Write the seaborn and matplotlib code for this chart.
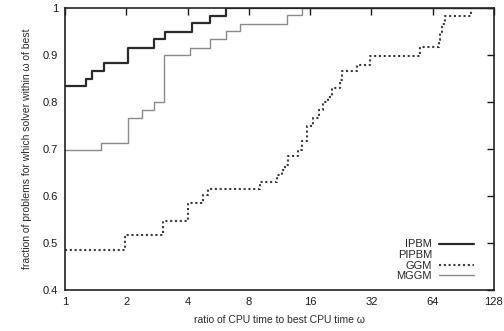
import numpy as np
import pandas as pd
import seaborn as sns
import matplotlib.pyplot as plt
from matplotlib.ticker import FixedLocator, NullLocator

# performance profile data (step points: tau, fraction)
ipbm_x = [1, 1.27, 1.35, 1.55, 2.04, 2.73, 3.1, 4.19, 5.16, 6.2, 128]
ipbm_y = [0.833, 0.849, 0.866, 0.882, 0.915, 0.933, 0.949, 0.967, 0.983, 1.0, 1.0]

pipbm_x = [1, 1.27, 1.35, 1.55, 2.04, 2.73, 3.1, 4.19, 5.16, 6.2, 128]
pipbm_y = [0.833, 0.849, 0.866, 0.882, 0.915, 0.933, 0.949, 0.967, 0.983, 1.0, 1.0]

ggm_x = [1, 1.97, 3.02, 4.03, 4.78, 5.03, 9.07, 11.0, 11.6, 12.0, 12.5, 14.0, 14.6,
         15.4, 16.6, 17.6, 18.6, 19.7, 20.5, 22.5, 22.9, 27.2, 31.6, 55.6, 68.4,
         69.8, 71.5, 73.2, 98.9, 128]
ggm_y = [0.484, 0.516, 0.547, 0.584, 0.602, 0.615, 0.63, 0.645, 0.655, 0.666, 0.684,
         0.698, 0.716, 0.748, 0.765, 0.783, 0.8, 0.811, 0.829, 0.847, 0.865, 0.879,
         0.898, 0.916, 0.932, 0.949, 0.966, 0.983, 1.0, 1.0]

mggm_x = [1, 1.51, 2.05, 2.38, 2.74, 3.06, 4.11, 5.16, 6.2, 7.2, 12.3, 14.6, 128]
mggm_y = [0.698, 0.713, 0.765, 0.783, 0.8, 0.9, 0.914, 0.933, 0.95, 0.966, 0.984, 1.0, 1.0]

solvers = ['IPBM', 'PIPBM', 'GGM', 'MGGM']
xs = [ipbm_x, pipbm_x, ggm_x, mggm_x]
ys = [ipbm_y, pipbm_y, ggm_y, mggm_y]

df = pd.concat([pd.DataFrame({'tau': x, 'frac': y, 'solver': s})
                for s, x, y in zip(solvers, xs, ys)], ignore_index=True)

sns.set_style('white')
plt.rcParams['font.family'] = ['Liberation Sans', 'DejaVu Sans']

fig = plt.figure(figsize=(5.04, 3.31), dpi=100)
ax = fig.add_axes([0.129, 0.124, 0.851, 0.852])

styles = {
    'IPBM': dict(color='#2a2a2a', lw=1.6, ls='-'),
    'PIPBM': dict(color='white', lw=0.0, ls='-'),
    'GGM': dict(color='#3a3a3a', lw=1.5, ls=(0, (1, 1.3))),
    'MGGM': dict(color='#8a8a8a', lw=1.0, ls='-'),
}
draw_order = ['PIPBM', 'MGGM', 'GGM', 'IPBM']
lines = {}
for s in draw_order:
    sub = df[df['solver'] == s]
    sns.lineplot(data=sub, x='tau', y='frac', ax=ax, drawstyle='steps-post',
                 estimator=None, sort=False, color=styles[s]['color'],
                 linewidth=styles[s]['lw'], linestyle=styles[s]['ls'])
    lines[s] = ax.lines[-1]

ax.set_xscale('log', base=2)
ax.set_xlim(1, 128)
ax.set_ylim(0.4, 1.0)
ticks = [1, 2, 4, 8, 16, 32, 64, 128]
ax.xaxis.set_major_locator(FixedLocator(ticks))
ax.xaxis.set_minor_locator(NullLocator())
ax.set_xticklabels([str(t) for t in ticks])
ax.set_yticks([0.4, 0.5, 0.6, 0.7, 0.8, 0.9, 1.0])
ax.set_yticklabels(['0.4', '0.5', '0.6', '0.7', '0.8', '0.9', '1'])
ax.tick_params(direction='in', length=5, width=1, top=True, right=True,
               labelsize=8, colors='#1a1a1a', pad=5)
for sp in ax.spines.values():
    sp.set_linewidth(1.2)
    sp.set_color('#222222')

ax.set_xlabel('ratio of CPU time to best CPU time \u03c9', fontsize=7.5, color='#2a2a2a', labelpad=6)
ax.set_ylabel('fraction of problems for which solver within \u03c9 of best', fontsize=7.5,
              color='#2a2a2a', labelpad=8)

handles = [lines[s] for s in solvers]
ax.legend(handles, solvers, loc='lower right', bbox_to_anchor=(0.975, 0.0), frameon=False,
          markerfirst=False, fontsize=8, handlelength=3.2, labelspacing=0.05,
          handletextpad=0.6, borderaxespad=0.4)

plt.savefig('out.png', dpi=100)
